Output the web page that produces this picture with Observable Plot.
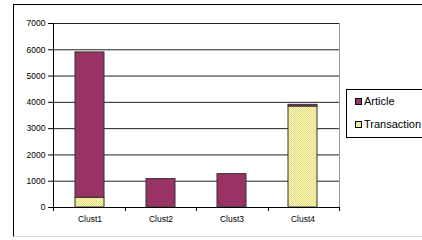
<!DOCTYPE html>
<html>
<head>
<meta charset="utf-8">
<script src="https://cdn.jsdelivr.net/npm/d3@7"></script>
<script src="https://cdn.jsdelivr.net/npm/@observablehq/plot@0.6"></script>
<style>
  html, body { margin: 0; padding: 0; background: #fff; }
  #wrap { position: relative; width: 422px; height: 240px; overflow: hidden; font-family: "Liberation Sans", Arial, sans-serif; }
  #frame { position: absolute; left: 13px; top: 4px; width: 420px; height: 231px; border-left: 1px solid #000; border-top: 1px solid #000; border-bottom: 1px solid #d8d8d8; }
  #chart { position: absolute; left: 0; top: 0; }
  #legend { position: absolute; left: 346px; top: 89px; width: 90px; height: 47px; border: 1px solid #000; background: #fff; font-size: 11px; color: #000; }
  .item { position: absolute; left: 8px; display: flex; align-items: center; white-space: nowrap; }
  .sw { width: 5px; height: 5px; border: 1px solid #000; margin-right: 2px; }
</style>
</head>
<body>
<div id="wrap">
  <div id="frame"></div>
  <div id="chart"></div>
  <div id="legend"></div>
</div>
<script>
const categories = ["Clust1", "Clust2", "Clust3", "Clust4"];
const seriesNames = ["Article", "Transaction"];
const article = [5530, 1080, 1270, 65];
const transaction = [370, 0, 0, 3840];
const yTicks = [0, 1000, 2000, 3000, 4000, 5000, 6000, 7000];
const seriesColors = ["#993366", "url(#dotsYellow)"];

const rows = [];
categories.forEach((c, i) => {
  rows.push({cat: c, series: "Transaction", value: transaction[i]});
  rows.push({cat: c, series: "Article", value: article[i]});
});

const plot = Plot.plot({
  width: 422,
  height: 240,
  marginLeft: 53,
  marginRight: 83,
  marginTop: 23,
  marginBottom: 33,
  style: {fontFamily: "'Liberation Sans', Arial, sans-serif", fontSize: "8.5px", background: "transparent", overflow: "visible"},
  x: {domain: categories, paddingInner: 0.59, paddingOuter: 0.295, label: null},
  y: {domain: [0, 7000], label: null},
  color: {domain: seriesNames, range: seriesColors},
  marks: [
    Plot.gridY(yTicks, {stroke: "#222", strokeOpacity: 1, strokeWidth: 1}),
    Plot.frame({stroke: "#999", anchor: "right"}),
    Plot.barY(rows, Plot.stackY({order: ["Transaction", "Article"]}, {x: "cat", y: "value", fill: "series", stroke: "#333", strokeWidth: 1, inset: 0})),
    Plot.ruleY([0], {stroke: "#000"}),
    Plot.axisY({ticks: yTicks, tickSize: 5, tickPadding: 3, tickFormat: d => String(d)}),
    Plot.axisX({tickSize: 0, tickPadding: 8})
  ]
});

// pattern for the Transaction fill
const svg = d3.select(plot);
const defs = svg.insert("defs", ":first-child");
const pat = defs.append("pattern").attr("id", "dotsYellow").attr("patternUnits", "userSpaceOnUse").attr("width", 2).attr("height", 2);
pat.append("rect").attr("width", 2).attr("height", 2).attr("fill", "#fbf8ad");
pat.append("rect").attr("width", 1).attr("height", 1).attr("fill", "#e2dd8e");
pat.append("rect").attr("x", 1).attr("y", 1).attr("width", 1).attr("height", 1).attr("fill", "#e2dd8e");

// y axis line and category-boundary ticks derived from the scales
const xs = plot.scale("x");
const ys = plot.scale("y");
const x0 = xs.range[0], x1 = xs.range[1];
const y0 = ys.apply(0), yTop = ys.apply(7000);
svg.append("line").attr("x1", x0 + 0.5).attr("x2", x0 + 0.5).attr("y1", yTop).attr("y2", y0).attr("stroke", "#000");
const step = (x1 - x0) / categories.length;
d3.range(categories.length + 1).forEach(i => {
  const xx = Math.round(x0 + i * step) + 0.5;
  svg.append("line").attr("x1", xx).attr("x2", xx).attr("y1", y0).attr("y2", y0 + 4).attr("stroke", "#000");
});

document.getElementById("chart").appendChild(plot);

// legend
const legend = document.getElementById("legend");
seriesNames.forEach((name, i) => {
  const item = document.createElement("div");
  item.className = "item";
  item.style.top = (i === 0 ? 5 : 28) + "px";
  const sw = document.createElement("div");
  sw.className = "sw";
  if (i === 0) sw.style.background = seriesColors[0];
  else sw.style.background = "repeating-conic-gradient(#e2dd8e 0 25%, #fbf8ad 0 50%) 0 0 / 2px 2px";
  const t = document.createElement("span");
  t.textContent = name;
  item.appendChild(sw);
  item.appendChild(t);
  legend.appendChild(item);
});
</script>
</body>
</html>
